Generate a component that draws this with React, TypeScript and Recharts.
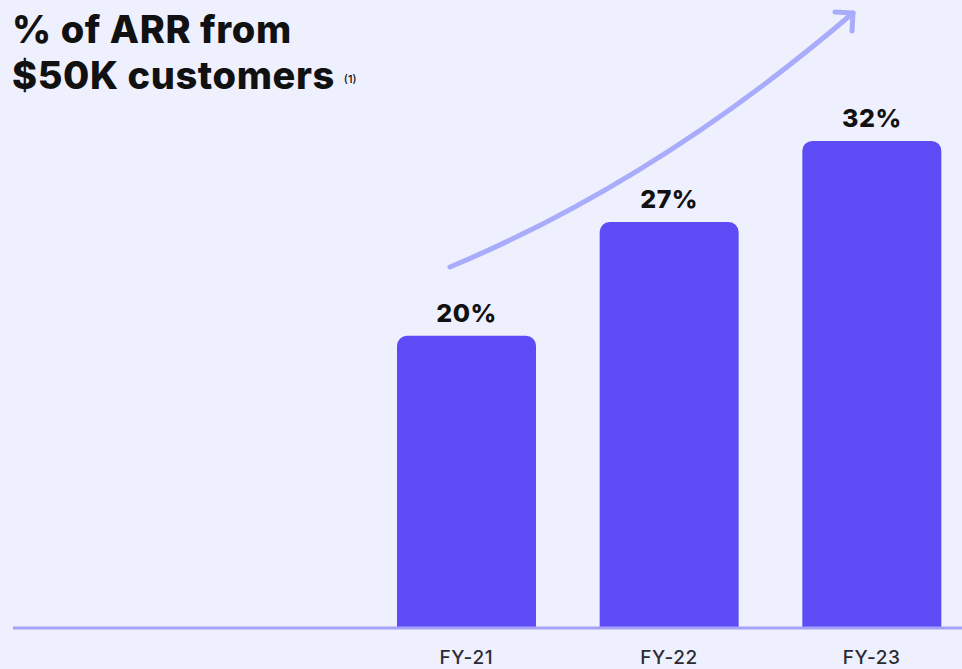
import React from 'react';
import { BarChart, Bar, XAxis, YAxis, LabelList } from 'recharts';

const categories = ['FY-21', 'FY-22', 'FY-23'];
const arrShare = [20, 27, 32];
const yDomain = [2, 36];

const data = categories.map((c, i) => ({ name: c, value: arrShare[i] }));

const BG = '#eff0fd';
const BAR = '#5d4bf5';
const AXIS = '#a6a2fa';
const ARROW = '#a9acfb';

export default function App() {
  return (
    <div
      style={{
        position: 'fixed',
        top: 0,
        left: 0,
        width: 962,
        height: 669,
        overflow: 'hidden',
        background: BG,
        fontFamily: 'Inter, sans-serif',
      }}
    >
      <div
        style={{
          position: 'absolute',
          left: 12,
          top: 6,
          fontSize: 38,
          fontWeight: 800,
          lineHeight: '46px',
          color: '#111',
          letterSpacing: 0.6,
        }}
      >
        % of ARR from
        <br />
        $50K customers{' '}
        <span style={{ fontSize: 11, fontWeight: 500, verticalAlign: 'middle', letterSpacing: 0 }}>(1)</span>
      </div>

      {/* growth arrow */}
      <svg width={962} height={669} style={{ position: 'absolute', top: 0, left: 0, pointerEvents: 'none' }}>
        <path
          d="M450 267 Q658 180 853 13"
          fill="none"
          stroke={ARROW}
          strokeWidth={5}
          strokeLinecap="round"
        />
        <path
          d="M835 12 L853 13 L852 31"
          fill="none"
          stroke={ARROW}
          strokeWidth={5}
          strokeLinecap="round"
          strokeLinejoin="round"
        />
      </svg>

      <div style={{ position: 'absolute', top: 0, left: 0 }}>
        <BarChart
          width={973}
          height={669}
          data={data}
          margin={{ top: 76, right: 0, left: 13, bottom: 0 }}
        >
          <XAxis
            dataKey="name"
            height={41}
            padding={{ left: 352, right: 0 }}
            axisLine={{ stroke: AXIS, strokeWidth: 3 }}
            tickLine={false}
            tick={{ fontSize: 19, fill: '#2b2b35', fontFamily: 'Inter, sans-serif', fontWeight: 500, letterSpacing: 0.6 }}
            dy={15}
          />
          <YAxis hide domain={yDomain} allowDataOverflow />
          <Bar dataKey="value" fill={BAR} barSize={139} radius={[10, 10, 0, 0]} isAnimationActive={false}>
            <LabelList
              dataKey="value"
              position="top"
              offset={14}
              formatter={(v: any) => `${v}%`}
              style={{ fontSize: 25, fontWeight: 800, fill: '#111', fontFamily: 'Inter, sans-serif', letterSpacing: 0.5 }}
            />
          </Bar>
        </BarChart>
      </div>
    </div>
  );
}
